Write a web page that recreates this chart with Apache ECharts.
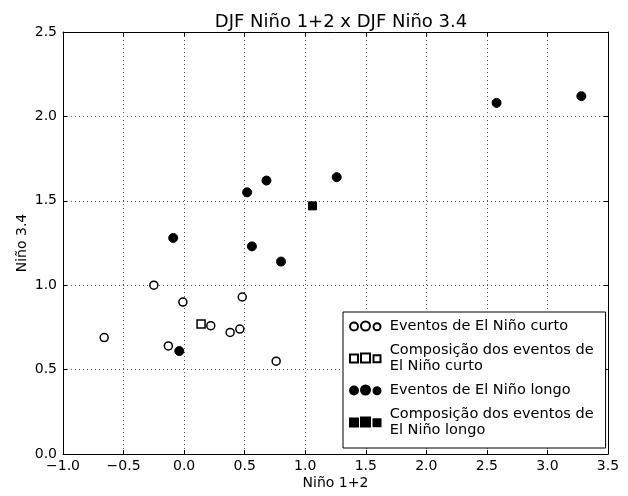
<!DOCTYPE html>
<html>
<head>
<meta charset="utf-8">
<script src="https://cdn.jsdelivr.net/npm/echarts@6/dist/echarts.min.js"></script>
<style>
    html, body { margin: 0; padding: 0; background: #fff; }
    #chart--scatter { width: 628px; height: 496px; }
</style>
</head>
<body>
<div id="chart--scatter"></div>
<script>
;
(() => {
    // DJF Niño 1+2 (x) versus DJF Niño 3.4 (y)
    const shortEvents = [
        [-0.66, 0.69],
        [-0.25, 1.00],
        [-0.01, 0.90],
        [0.48, 0.93],
        [0.22, 0.76],
        [0.38, 0.72],
        [0.46, 0.74],
        [-0.13, 0.64],
        [0.76, 0.55]
    ];
    const shortComposite = [[0.14, 0.77]];
    const longEvents = [
        [-0.09, 1.28],
        [-0.04, 0.61],
        [0.52, 1.55],
        [0.68, 1.62],
        [1.26, 1.64],
        [0.56, 1.23],
        [0.80, 1.14],
        [2.58, 2.08],
        [3.28, 2.12]
    ];
    const longComposite = [[1.06, 1.47]];
    const seriesNames = [
        'Eventos de El Niño curto',
        'Composição dos eventos de\nEl Niño curto',
        'Eventos de El Niño longo',
        'Composição dos eventos de\nEl Niño longo'
    ];
    const fontFamily = 'DejaVu Sans';
    // three markers per legend row, like the matplotlib legend
    function circleAt(cx, cy, r) {
        return `M${cx - r},${cy} a${r},${r} 0 1,0 ${2 * r},0 a${r},${r} 0 1,0 ${-2 * r},0 Z `;
    }
    function rectAt(cx, cy, h) {
        return `M${cx - h},${cy - h} L${cx + h},${cy - h} L${cx + h},${cy + h} L${cx - h},${cy + h} Z `;
    }
    const circleIcon = 'path://' + circleAt(4.5, 5.5, 4) + circleAt(16, 5, 4.5) + circleAt(27.5, 5.75, 3.5);
    const rectIcon = 'path://' + rectAt(4.5, 5.5, 4) + rectAt(16, 5, 4.5) + rectAt(27.5, 5.75, 3.5);
    const scatterChart = echarts.init(document.querySelector('#chart--scatter'));
    function valueAxis(min, max, position, showLabels) {
        return {
            type: 'value',
            min,
            max,
            interval: 0.5,
            position,
            axisLine: { show: true, onZero: false, lineStyle: { color: '#000', width: 1 } },
            axisTick: { show: true, inside: true, length: 4, lineStyle: { color: '#000' } },
            axisLabel: {
                show: showLabels,
                color: '#000',
                fontFamily,
                fontSize: 14,
                formatter: (value) => value.toFixed(1).replace('-', '\u2212')
            },
            splitLine: showLabels
                ? { show: true, lineStyle: { color: '#555', type: [1, 3], width: 1 } }
                : { show: false }
        };
    }
    const xBottom = valueAxis(-1, 3.5, 'bottom', true);
    xBottom.name = 'Niño 1+2';
    xBottom.nameLocation = 'middle';
    xBottom.nameGap = 22;
    xBottom.nameMoveOverlap = false;
    xBottom.nameTextStyle = { color: '#000', fontFamily, fontSize: 14 };
    xBottom.axisLabel.margin = 5;
    const yLeft = valueAxis(0, 2.5, 'left', true);
    yLeft.name = 'Niño 3.4';
    yLeft.nameLocation = 'middle';
    yLeft.nameGap = 34;
    yLeft.nameMoveOverlap = false;
    yLeft.nameTextStyle = { color: '#000', fontFamily, fontSize: 14 };
    yLeft.axisLabel.margin = 6;
    scatterChart.setOption({
        animation: false,
        backgroundColor: '#fff',
        title: {
            text: 'DJF Niño 1+2 x DJF Niño 3.4',
            left: 336,
            textAlign: 'center',
            top: 8,
            textStyle: {
                color: '#000',
                fontFamily,
                fontSize: 18,
                fontWeight: 'normal'
            }
        },
        grid: {
            left: 63,
            right: 20,
            top: 32,
            bottom: 42,
            containLabel: false
        },
        legend: {
            orient: 'vertical',
            left: 343,
            top: 312,
            padding: [6, 12, 10, 6],
            itemWidth: 33,
            itemHeight: 9,
            itemGap: 8,
            backgroundColor: '#fff',
            borderColor: '#000',
            borderWidth: 1,
            borderRadius: 0,
            textStyle: {
                color: '#000',
                fontFamily,
                fontSize: 14.5,
                lineHeight: 16,
                padding: [0, 0, 0, 3]
            },
            data: [
                { name: seriesNames[0], icon: circleIcon },
                { name: seriesNames[1], icon: rectIcon },
                { name: seriesNames[2], icon: circleIcon },
                { name: seriesNames[3], icon: rectIcon }
            ]
        },
        xAxis: [xBottom, valueAxis(-1, 3.5, 'top', false)],
        yAxis: [yLeft, valueAxis(0, 2.5, 'right', false)],
        series: [
            {
                name: seriesNames[0],
                type: 'scatter',
                data: shortEvents,
                symbol: 'circle',
                symbolSize: 8,
                itemStyle: { color: '#fff', borderColor: '#000', borderWidth: 1.5, opacity: 1 }
            },
            {
                name: seriesNames[1],
                type: 'scatter',
                data: shortComposite,
                symbol: 'rect',
                symbolSize: 8,
                itemStyle: { color: '#fff', borderColor: '#000', borderWidth: 1.5, opacity: 1 }
            },
            {
                name: seriesNames[2],
                type: 'scatter',
                data: longEvents,
                symbol: 'circle',
                symbolSize: 9,
                itemStyle: { color: '#000', borderColor: '#000', borderWidth: 1, opacity: 1 }
            },
            {
                name: seriesNames[3],
                type: 'scatter',
                data: longComposite,
                symbol: 'rect',
                symbolSize: 8,
                itemStyle: { color: '#000', borderColor: '#000', borderWidth: 1, opacity: 1 }
            }
        ]
    });
})();
</script>
</body>
</html>
